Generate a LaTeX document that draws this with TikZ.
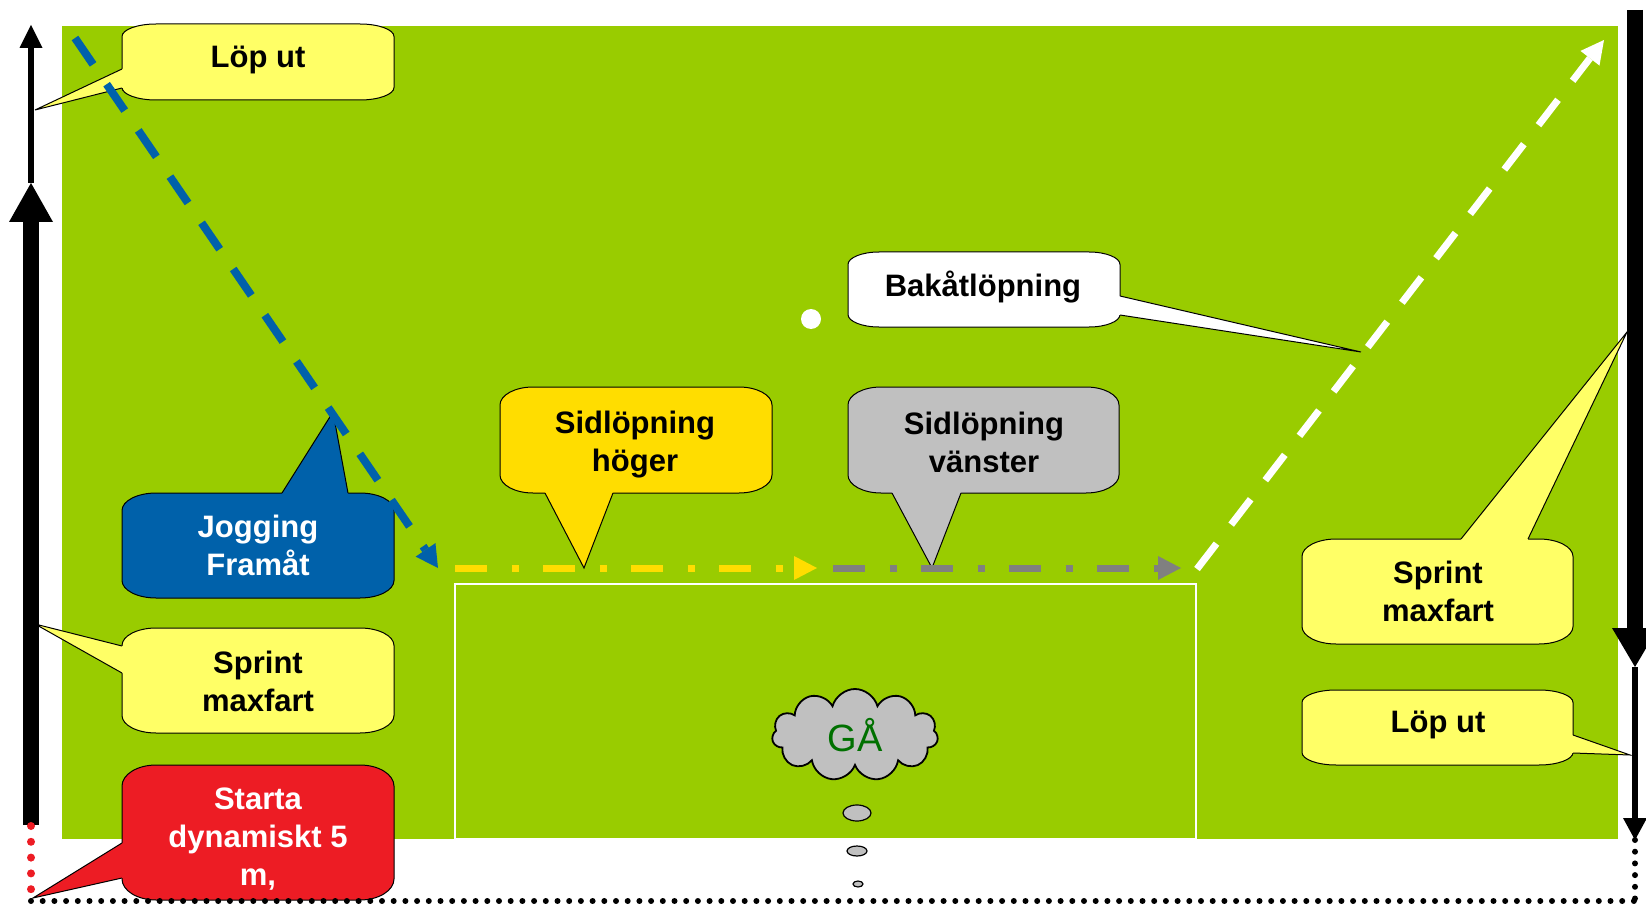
\documentclass[tikz,border=0pt]{standalone}
\usepackage{fontspec}
\setmainfont{Liberation Sans}
\usetikzlibrary{arrows.meta,shapes.geometric,shapes.symbols}
\definecolor{field}{HTML}{99CC00}
\definecolor{lightyel}{HTML}{FFFF66}
\definecolor{gold}{HTML}{FFDD00}
\definecolor{silver}{HTML}{C0C0C0}
\definecolor{jblue}{HTML}{0061AA}
\definecolor{sred}{HTML}{ED1C24}
\definecolor{dgray}{HTML}{808080}
\definecolor{gagreen}{HTML}{007000}
% #1 fill, #2 x1, #3 y1, #4 x2, #5 y2, #6 corner rx, #7 corner ry, #8 pointer legs, #9 inner closing points
\newcommand\callout[9]{%
  \filldraw[fill=#1, draw=black, line width=0.5pt]
    (#2+#6,#3) -- (#4-#6,#3)
    .. controls (#4-0.45*#6,#3) and (#4,#3+0.45*#7) .. (#4,#3+#7)
    -- (#4,#5-#7)
    .. controls (#4,#5-0.45*#7) and (#4-0.45*#6,#5) .. (#4-#6,#5)
    -- (#2+#6,#5)
    .. controls (#2+0.45*#6,#5) and (#2,#5-0.45*#7) .. (#2,#5-#7)
    -- (#2,#3+#7)
    .. controls (#2,#3+0.45*#7) and (#2+0.45*#6,#3) .. (#2+#6,#3) -- cycle;
  \fill[#1] #8 -- #9 -- cycle;
  \draw[black, line width=0.5pt] #8;
}
\begin{document}
\begin{tikzpicture}[x=0.5pt,y=-0.5pt,
  calltext/.style={font=\bfseries\fontsize{15.5pt}{19pt}\selectfont, align=center, inner sep=0pt},
  dashline/.style={line width=#1, dash pattern=on 16pt off 12pt},
  dashdot/.style={line width=3.5pt, dash pattern=on 16pt off 12.25pt on 3.5pt off 12.25pt},
  smalltip/.style={-{Triangle[length=11.5pt,width=12pt,line width=0pt]}},
  dots/.style={line cap=round, dash pattern=on 0pt off 5.85pt, line width=3pt},
  bubble/.style={ellipse, draw=black, line width=0.6pt, fill=silver, inner sep=0pt}
]
\useasboundingbox (0,0) rectangle (1646,904);
\fill[white] (0,0) rectangle (1646,904);
\fill[field] (62,26) rectangle (1618,839);
\draw[white, line width=1pt] (455,584) rectangle (1196,839);

% ball
\node[circle, fill=white, minimum size=10pt, inner sep=0pt] (ball) at (811,319) {};

% cloud and thought bubbles
\node[cloud, cloud puffs=11, aspect=1.8, draw=black, line width=0.9pt, fill=silver,
      minimum width=83pt, minimum height=46pt, inner sep=0pt,
      font=\fontsize{19pt}{20pt}\selectfont, text=gagreen] (cloud) at (855,735) {GÅ};
\node[bubble, minimum width=14pt, minimum height=8pt] (t1) at (857,813) {};
\node[bubble, minimum width=10pt, minimum height=5pt] (t2) at (857,851) {};
\node[bubble, minimum width=5pt, minimum height=3pt] (t3) at (858,884) {};

% callouts
\callout{lightyel}{122}{24}{394}{100}{34}{12.5}{(122,69) -- (35,110) -- (122,88)}{(126,88) -- (126,69)}
\node[calltext] (lopL) at (258,60) {Löp ut};

\callout{jblue}{122}{493}{394}{598}{34}{17.5}{(282,493) -- (333,412) -- (348,493)}{(348,497) -- (282,497)}
\node[calltext, text=white] (jog) at (258,545) {Jogging\\Framåt};

\callout{lightyel}{122}{628}{394}{733}{34}{17.5}{(122,646) -- (35,624) -- (122,673)}{(126,673) -- (126,646)}
\node[calltext] (sprL) at (258,681) {Sprint\\maxfart};

\callout{sred}{122}{765}{394}{900}{34}{21}{(122,843) -- (33,898) -- (122,878)}{(126,878) -- (126,843)}
\node[calltext, text=white] (start) at (258,839) {Starta\\dynamiskt 5\\m,};

\callout{gold}{500}{387}{772}{493}{33}{18}{(545,493) -- (584,568) -- (613,493)}{(613,489) -- (545,489)}
\node[calltext] (hog) at (635,445) {Sidlöpning\\höger};

\callout{silver}{848}{387}{1119}{493}{33}{18}{(892,493) -- (932,568) -- (961,493)}{(961,489) -- (892,489)}
\node[calltext] (van) at (984,442) {Sidlöpning\\vänster};

\callout{white}{848}{252}{1120}{327}{31}{12.5}{(1120,296) -- (1361,352) -- (1120,315)}{(1116,315) -- (1116,296)}
\node[calltext] (bak) at (983,287) {Bakåtlöpning};

\callout{lightyel}{1302}{539}{1573}{644}{34}{17.5}{(1461,539) -- (1627,332) -- (1528,539)}{(1528,543) -- (1461,543)}
\node[calltext] (sprR) at (1438,591) {Sprint\\maxfart};

\callout{lightyel}{1302}{690}{1573}{765}{34}{12.5}{(1573,735) -- (1630,755) -- (1573,753)}{(1569,753) -- (1569,735)}
\node[calltext] (lopR) at (1438,725) {Löp ut};

% running paths
\coordinate (bS) at (75,38);    \coordinate (bE) at (438,568);
\coordinate (yS) at (455,568);  \coordinate (yE) at (817,568);
\coordinate (gS) at (833,568);  \coordinate (gE) at (1181,568);
\coordinate (wS) at (1197,569); \coordinate (wE) at (1604,40);
\draw[jblue, dashline=4pt, -{Triangle[length=11pt,width=12pt,line width=0pt]}] (bS) -- (bE);
\draw[gold, dashdot, smalltip] (yS) -- (yE);
\draw[dgray, dashdot, smalltip] (gS) -- (gE);
\draw[white, dashline=3.5pt, smalltip] (wS) -- (wE);

% left sprint arrows
\coordinate (Lbot) at (31,825); \coordinate (Lmid) at (31,183); \coordinate (Ltop) at (31,25);
\draw[black, line width=8pt, -{Triangle[length=19.5pt,width=22pt,line width=0pt]}] (Lbot) -- (Lmid);
\draw[black, line width=2.6pt, -{Triangle[length=11.5pt,width=11.5pt,line width=0pt]}] (Lmid) -- (Ltop);

% right sprint arrows
\coordinate (Rtop) at (1635,10); \coordinate (Rmid) at (1635,667); \coordinate (Rbot) at (1635,840);
\draw[black, line width=8pt, -{Triangle[length=19.5pt,width=23pt,line width=0pt]}] (Rtop) -- (Rmid);
\draw[black, line width=2.8pt, -{Triangle[length=11pt,width=12pt,line width=0pt]}] (Rmid) -- (Rbot);

% dotted walking lines
\coordinate (botL) at (31,901); \coordinate (botR) at (1635,901);
\coordinate (redTop) at (31,826); \coordinate (redBot) at (31,890);
\draw[black, dots] (botL) -- (botR);
\draw[black, dots] (Rbot) -- (botR);
\draw[sred, line cap=round, line width=4pt, dash pattern=on 0pt off 7.9pt] (redTop) -- (redBot);
\end{tikzpicture}
\end{document}
